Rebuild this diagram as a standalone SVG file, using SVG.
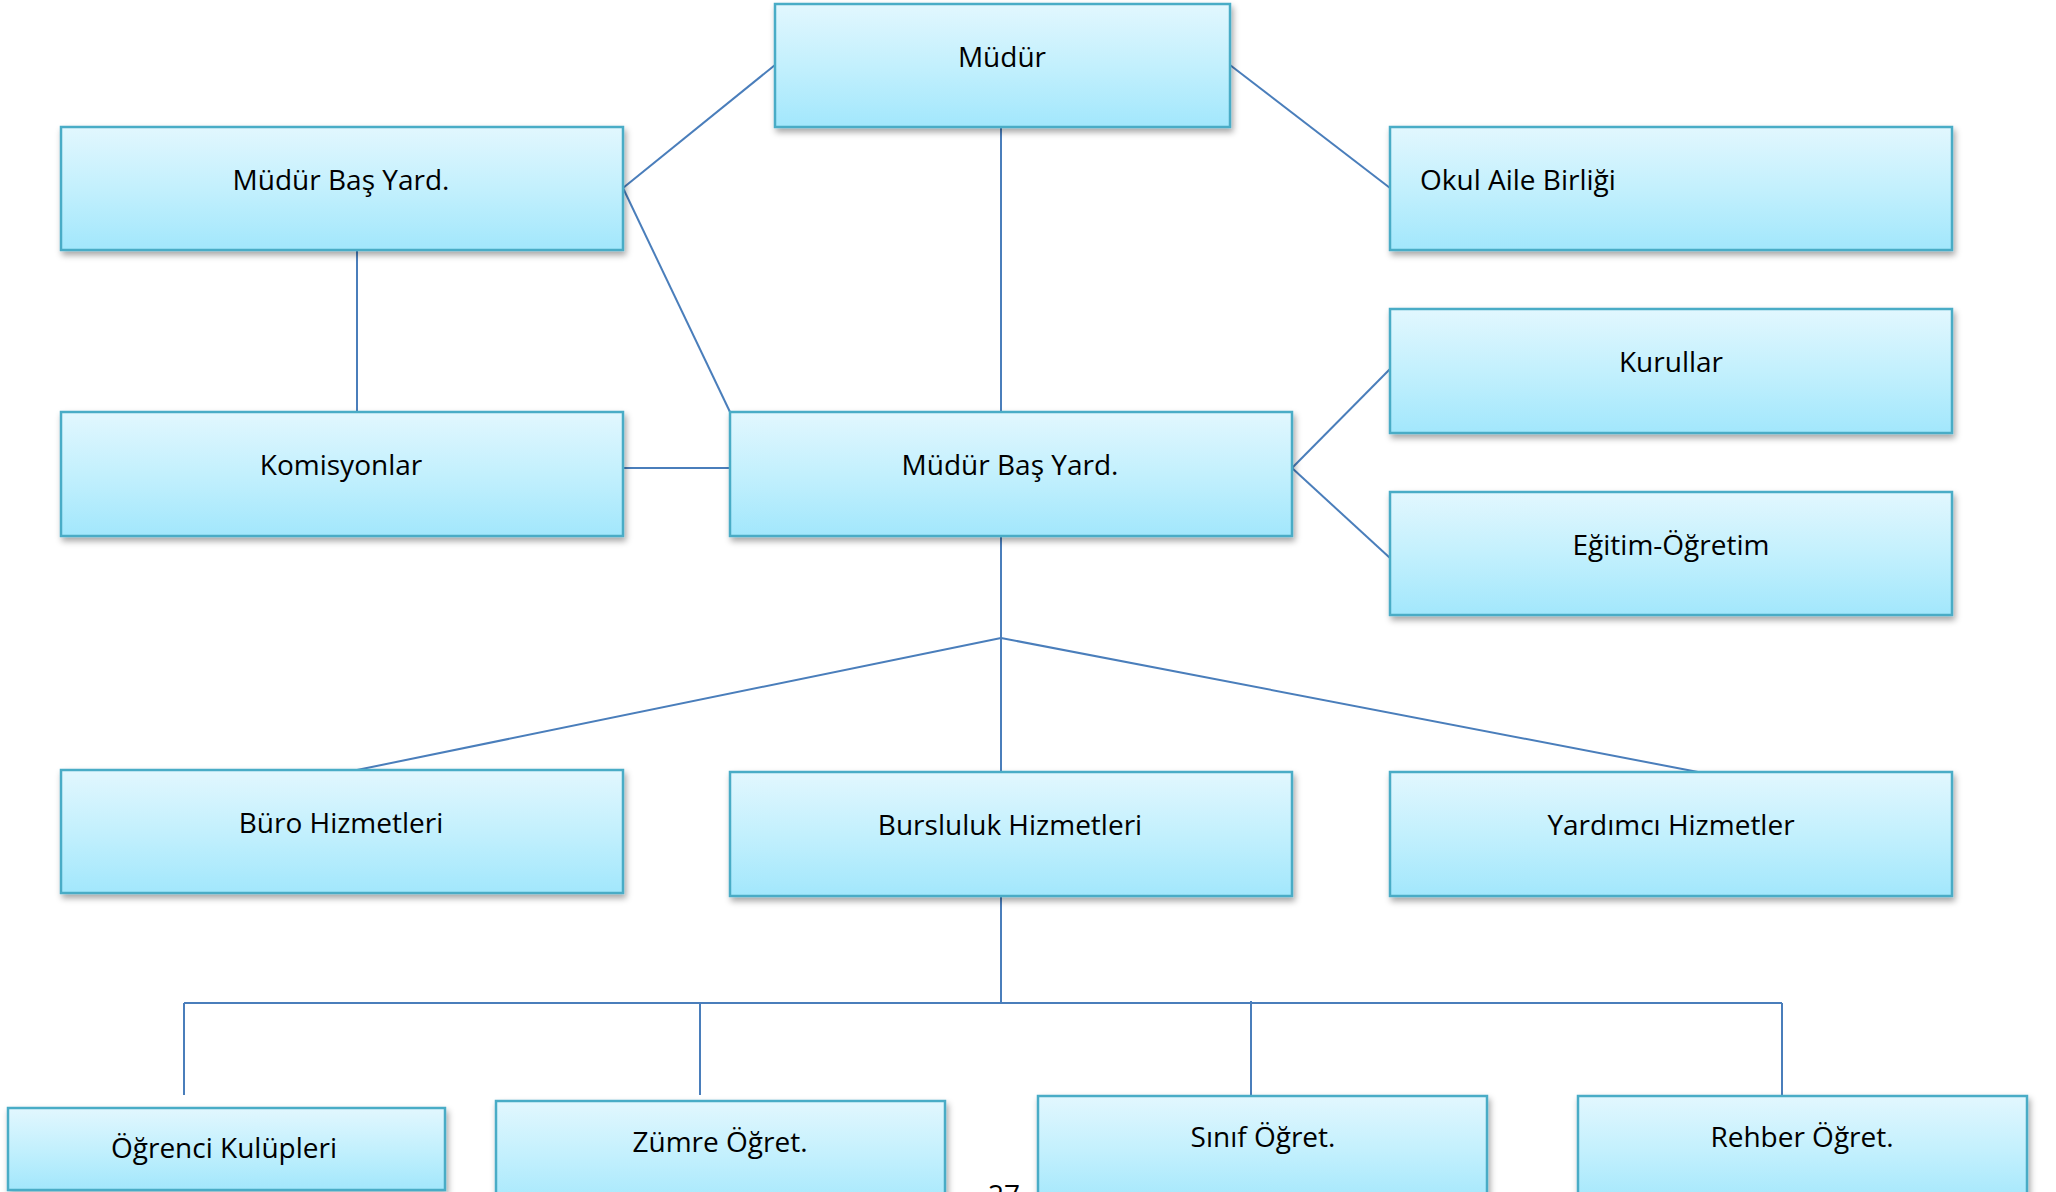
<svg xmlns="http://www.w3.org/2000/svg" width="2056" height="1192" viewBox="0 0 2056 1192">
  <defs>
    <linearGradient id="boxFill" x1="0" y1="0" x2="0" y2="1">
      <stop offset="0" stop-color="#e2f7fe"/>
      <stop offset="0.5" stop-color="#c3f0fd"/>
      <stop offset="1" stop-color="#a2e7fc"/>
    </linearGradient>
    <filter id="shadow" x="-5%" y="-10%" width="115%" height="130%">
      <feDropShadow dx="2" dy="4" stdDeviation="3" flood-color="#000" flood-opacity="0.35"/>
    </filter>
  </defs>
  <style>
    .box { fill: url(#boxFill); stroke: #4aacc6; stroke-width: 2.5; filter: url(#shadow); }
    .lbl { font-family: "Open Sans", "Noto Sans", "Liberation Sans", sans-serif; font-size: 28px; fill: #000; text-anchor: middle; }
    .lft { text-anchor: start; }
    .conn { stroke: #4a7ebb; stroke-width: 2; fill: none; }
  </style>
  <rect width="2056" height="1192" fill="#fff"/>

  <g id="connectors">
    <line class="conn" x1="775" y1="65" x2="623" y2="188"/>
    <line class="conn" x1="1230" y1="65" x2="1390" y2="188"/>
    <line class="conn" x1="1001" y1="127" x2="1001" y2="412"/>
    <line class="conn" x1="623" y1="188" x2="730" y2="412"/>
    <line class="conn" x1="357" y1="250" x2="357" y2="412"/>
    <line class="conn" x1="623" y1="468" x2="730" y2="468"/>
    <line class="conn" x1="1292" y1="468" x2="1390" y2="369"/>
    <line class="conn" x1="1292" y1="468" x2="1390" y2="558"/>
    <line class="conn" x1="1001" y1="536" x2="1001" y2="772"/>
    <line class="conn" x1="1001" y1="638" x2="357" y2="770"/>
    <line class="conn" x1="1001" y1="638" x2="1698" y2="772"/>
    <line class="conn" x1="1001" y1="896" x2="1001" y2="1003"/>
    <line class="conn" x1="184" y1="1003" x2="1782" y2="1003"/>
    <line class="conn" x1="184" y1="1003" x2="184" y2="1095"/>
    <line class="conn" x1="700" y1="1003" x2="700" y2="1095"/>
    <line class="conn" x1="1251" y1="1001" x2="1251" y2="1097"/>
    <line class="conn" x1="1782" y1="1003" x2="1782" y2="1096"/>
  </g>

  <g id="node-mudur">
    <rect class="box" x="775" y="4" width="455" height="123"/>
    <text class="lbl" x="1002" y="67">Müdür</text>
  </g>
  <g id="node-mudur-bas-yard-1">
    <rect class="box" x="61" y="127" width="562" height="123"/>
    <text class="lbl" x="341" y="190">Müdür Baş Yard.</text>
  </g>
  <g id="node-okul-aile">
    <rect class="box" x="1390" y="127" width="562" height="123"/>
    <text class="lbl lft" x="1420" y="190">Okul Aile Birliği</text>
  </g>
  <g id="node-kurullar">
    <rect class="box" x="1390" y="309" width="562" height="124"/>
    <text class="lbl" x="1671" y="372">Kurullar</text>
  </g>
  <g id="node-egitim">
    <rect class="box" x="1390" y="492" width="562" height="123"/>
    <text class="lbl" x="1671" y="555">Eğitim-Öğretim</text>
  </g>
  <g id="node-komisyonlar">
    <rect class="box" x="61" y="412" width="562" height="124"/>
    <text class="lbl" x="341" y="475">Komisyonlar</text>
  </g>
  <g id="node-mudur-bas-yard-2">
    <rect class="box" x="730" y="412" width="562" height="124"/>
    <text class="lbl" x="1010" y="475">Müdür Baş Yard.</text>
  </g>
  <g id="node-buro">
    <rect class="box" x="61" y="770" width="562" height="123"/>
    <text class="lbl" x="341" y="833">Büro Hizmetleri</text>
  </g>
  <g id="node-bursluluk">
    <rect class="box" x="730" y="772" width="562" height="124"/>
    <text class="lbl" x="1010" y="835">Bursluluk Hizmetleri</text>
  </g>
  <g id="node-yardimci">
    <rect class="box" x="1390" y="772" width="562" height="124"/>
    <text class="lbl" x="1671" y="835">Yardımcı Hizmetler</text>
  </g>
  <g id="node-ogrenci">
    <rect class="box" x="8" y="1108" width="437" height="82"/>
    <text class="lbl" x="224" y="1158">Öğrenci Kulüpleri</text>
  </g>
  <g id="node-zumre">
    <rect class="box" x="496" y="1101" width="449" height="110"/>
    <text class="lbl" x="720" y="1152">Zümre Öğret.</text>
  </g>
  <g id="node-sinif">
    <rect class="box" x="1038" y="1096" width="449" height="110"/>
    <text class="lbl" x="1263" y="1147">Sınıf Öğret.</text>
  </g>
  <g id="node-rehber">
    <rect class="box" x="1578" y="1096" width="449" height="110"/>
    <text class="lbl" x="1802" y="1147">Rehber Öğret.</text>
  </g>
  <text class="lbl lft" x="988" y="1205">27</text>
</svg>
